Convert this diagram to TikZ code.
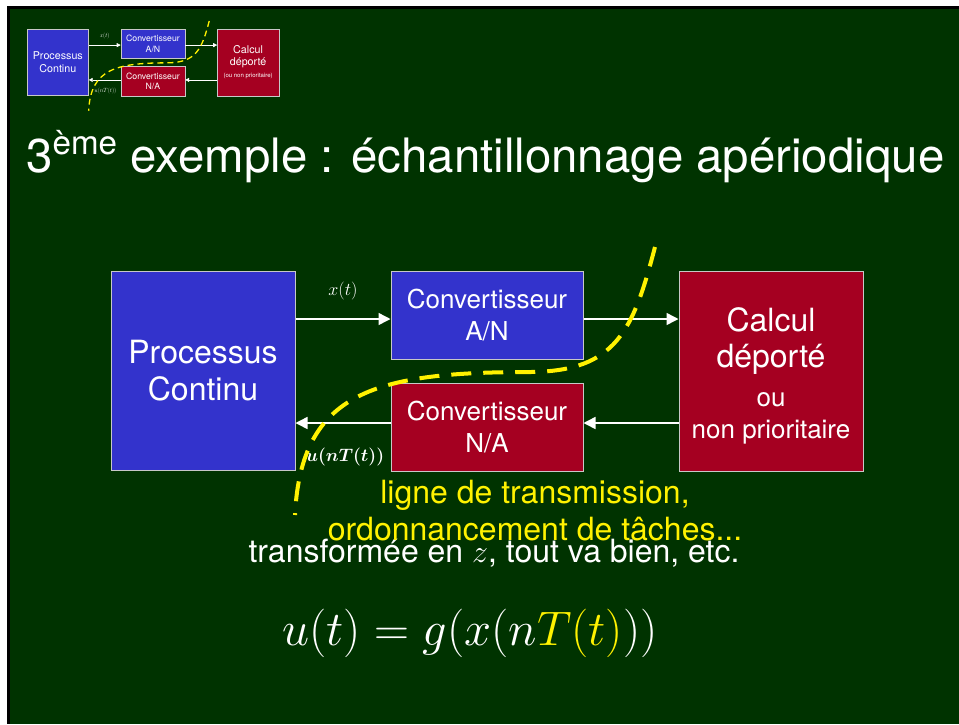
\documentclass[tikz,border=0pt]{standalone}
\usepackage{fix-cm}
\usepackage{amsmath}
\usepackage[no-math]{fontspec}
\setmainfont{TeX Gyre Heros}
\usetikzlibrary{arrows.meta}
\definecolor{fond}{RGB}{0,51,0}
\definecolor{bleu}{RGB}{51,51,204}
\definecolor{rouge}{RGB}{165,0,33}
\definecolor{gris}{RGB}{200,200,200}
\newcommand{\petit}{\fontsize{26}{30}\selectfont}

% le schema bloc, dessine avec le coin haut gauche du processus en (0,0)
\newcommand{\schema}[2]{%
  \node[boite,fill=bleu,minimum width=184pt,minimum height=199pt,font=\fontsize{32}{37}\selectfont] (proc) at (92,99.5) {Processus\\Continu};
  \node[boite,fill=bleu,minimum width=192pt,minimum height=88pt,font=\fontsize{26}{32}\selectfont] (an) at (376,44) {Convertisseur\\A/N};
  \node[boite,fill=rouge,minimum width=192pt,minimum height=88pt,font=\fontsize{26}{32}\selectfont] (na) at (376,156) {Convertisseur\\N/A};
  \node[boite,fill=rouge,minimum width=184pt,minimum height=200pt,font=\fontsize{32}{36}\selectfont] (calc) at (660,100) {#1};
  \coordinate (haut) at (0,48);
  \coordinate (bas) at (0,152);
  \draw[fleche] (proc.east |- haut) -- (an.west |- haut);
  \draw[fleche] (an.east |- haut) -- (calc.west |- haut);
  \draw[fleche] (calc.west |- bas) -- (na.east |- bas);
  \draw[fleche] (na.west |- bas) -- (proc.east |- bas);
  \node[etiquette] (xt) at (232,20) {$x(t)$};
  \node[etiquette] (unt) at (234,186) {#2};
  \draw[courbe] (544,-24) .. controls (522,60) and (505,100) .. (420,101)
    .. controls (265,101) and (190,120) .. (184,244);
}

\begin{document}
\begin{tikzpicture}[x=1pt,y=-1pt,
  boite/.style={draw=gris,line width=1pt,inner sep=0pt,text=white,align=center},
  fleche/.style={-{Triangle[length=12pt,width=12pt]},draw=white,line width=1.5pt},
  courbe/.style={draw=yellow,line width=4pt,dash pattern=on 20pt off 12pt},
  etiquette/.style={text=white,inner sep=0pt,font=\fontsize{18}{20}\selectfont}]

  % fond de la diapo
  \fill[white] (0,0) rectangle (959,724);
  \fill[black] (7,6) rectangle (959,724);
  \fill[fond] (10,9) rectangle (959,724);
  \useasboundingbox (0,0) rectangle (959,724);

  % vignette
  \begin{scope}[shift={(27,29)},scale=.335,transform shape,name prefix=v-,
    boite/.append style={line width=.4pt},
    fleche/.style={-{Triangle[length=4pt,width=4pt]},draw=white,line width=.6pt},
    courbe/.style={draw=yellow,line width=1.3pt,dash pattern=on 6pt off 4pt}]
    \schema{Calcul\\déporté\\{\fontsize{18}{22}\selectfont(ou non prioritaire)}}{$u(nT(t))$}
  \end{scope}

  \node[anchor=base west,inner sep=0pt,text=white,font=\fontsize{47.4}{56}\selectfont] (titre) at (26,172)
    {3\textsuperscript{ème} exemple : échantillonnage apériodique};

  \begin{scope}[shift={(111,271)}]
    \schema{\rule{0pt}{34pt}Calcul\\déporté\\[3pt]{\petit ou}\\[-4pt]{\petit non prioritaire}}{$\boldsymbol{u(nT(t))}$}
  \end{scope}

  \node[anchor=base,inner sep=0pt,text=white,font=\fontsize{32}{37}\selectfont] (tz) at (494,562)
    {transformée en $z$, tout va bien, etc.};
  \node[anchor=base,inner sep=0pt,text=yellow,font=\fontsize{32}{37}\selectfont] (ligne1) at (535,503)
    {ligne de transmission,};
  \node[anchor=base,inner sep=0pt,text=yellow,font=\fontsize{32}{37}\selectfont] (ligne2) at (535,540)
    {ordonnancement de tâches...};

  \node[anchor=base,inner sep=0pt,text=white,font=\fontsize{48.5}{52}\selectfont] (eq) at (470,645)
    {$u(t)=g(x(n{\color{yellow}T(t)}))$};

\end{tikzpicture}
\end{document}
